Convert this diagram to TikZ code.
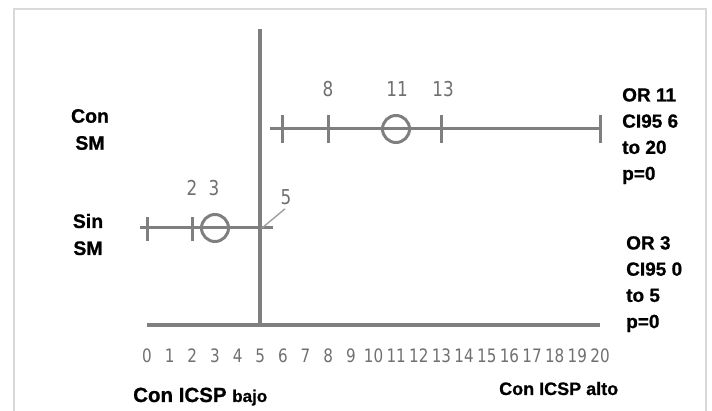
\documentclass[tikz,border=0pt]{standalone}
\usepackage{fontspec}
\usetikzlibrary{calc}
\setmainfont{Liberation Sans}[BoldFeatures={FakeBold=0.8}]
\newfontfamily\numfont[FakeStretch=0.82]{DejaVu Sans}
\definecolor{linecol}{HTML}{7F7F7F}
\definecolor{numcol}{HTML}{707070}
\definecolor{framecol}{HTML}{D9D9D9}
\begin{document}
\begin{tikzpicture}[x=1pt,y=-1pt,
  axisline/.style={draw=linecol,line width=3.2pt},
  ciline/.style={draw=linecol,line width=3pt},
  tickmark/.style={draw=linecol,line width=3pt},
  estcircle/.style={draw=linecol,line width=3pt,circle,minimum size=27pt,inner sep=0pt},
  ticklab/.style={font=\numfont\fontsize{18.5}{20}\selectfont,text=numcol,inner sep=0pt},
  toplab/.style={font=\numfont\fontsize{20.5}{22}\selectfont,text=numcol,inner sep=0pt},
  grp/.style={font=\bfseries\fontsize{19.5}{27}\selectfont,align=center,inner sep=0pt},
  orlab/.style={font=\bfseries\fontsize{19}{26.2}\selectfont,align=left,inner sep=0pt,anchor=north west},
  leader/.style={draw=linecol!75,line width=1.4pt}]
\useasboundingbox (0,0) rectangle (712,411);
% frame
\begin{scope}
\clip (0,0) rectangle (712,411);
\draw[framecol,line width=2.2pt] (14,420) -- (14,9) -- (706,9) -- (706,420);
\end{scope}
% axes
\draw[axisline] (260,29) -- (260,327);
\draw[axisline] (147,325) -- (600,325);
% tick labels
\foreach \i in {0,...,20}{
  \node[ticklab] (t\i) at ({147+22.65*\i},356) {\i};
}
% top CI (Con SM)
\draw[ciline] (270,129) -- (601,129);
\foreach \v in {6,8,13,20}{
  \draw[tickmark] ({147+22.65*\v},115) -- ({147+22.65*\v},143);
}
\node[estcircle,fill=white] (c11) at (396,129) {};
\draw[ciline] (c11.west) -- (c11.east);
\node[toplab] (l8) at (328,89) {8};
\node[toplab] (l11) at (397,89) {11};
\node[toplab] (l13) at (443,89) {13};
% bottom CI (Sin SM)
\draw[ciline] (140,228) -- (273,228);
\foreach \v in {0,2}{
  \draw[tickmark] ({147+22.65*\v},217) -- ({147+22.65*\v},241);
}
\draw[tickmark] (260,217) -- (260,241);
\node[estcircle,fill=white] (c3) at (215,228) {};
\draw[ciline] (c3.west) -- (c3.east);
\node[toplab] (l2) at (192,188) {2};
\node[toplab] (l3) at (214,188) {3};
\node[toplab] (l5) at (286,197) {5};
\coordinate (p5) at (262,228);
\draw[leader] (p5) -- ($(l5.south)+(-1,4)$);
% group labels
\node[grp] (con) at (90,129.5) {Con\\SM};
\node[grp] (sin) at (88,234.5) {Sin\\SM};
% OR labels
\node[orlab] (or1) at (622,88) {OR 11\\CI95 6\\to 20\\p=0};
\node[orlab] (or2) at (626,236) {OR 3\\CI95 0\\to 5\\p=0};
% axis titles
\node[anchor=base west,inner sep=0pt,font=\bfseries] (lo) at (133,402)
  {\fontsize{20.5}{22}\selectfont Con ICSP \fontsize{17}{18}\selectfont bajo};
\node[anchor=base west,inner sep=0pt,font=\bfseries\fontsize{18}{20}\selectfont] (hi) at (499,395)
  {Con ICSP alto};
\end{tikzpicture}
\end{document}
